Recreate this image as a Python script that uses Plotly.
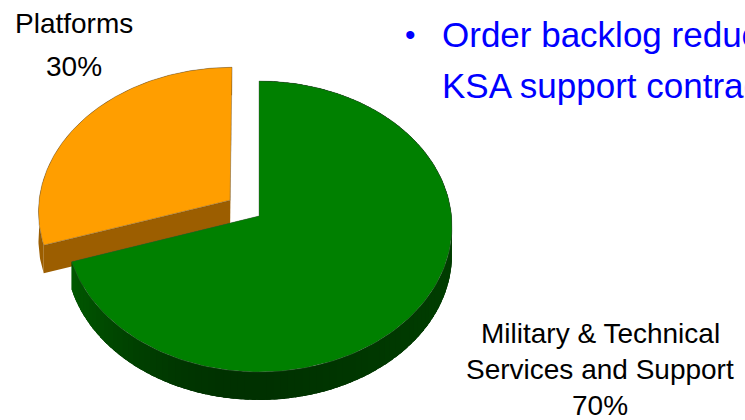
import numpy as np
import plotly.graph_objects as go

# Order backlog split (percent)
segments = ["Platforms", "Military & Technical Services and Support"]
shares = [30, 70]
top_colors = ["#FF9E00", "#008000"]
side_rgb = [(156, 94, 0), (0, 128, 0)]
shaded_rim = [False, True]
pulls = [0.187, 0.0]

label_lines = [["Platforms", "30%"],
               ["Military & Technical", "Services and Support", "70%"]]
bullet_lines = ["Order backlog reduced by", "KSA support contract"]

W, H = 745, 420

# Tilted-disc projection: (u, v) on the unit circle, v toward the viewer
CX, CY = 259.0, 216.0
RX, RY = 192.5, 144.7
K = 0.0722
DEPTH = 28.0


def project(u, v, drop=0.0):
    s = 1.0 / (1.0 - K * v)
    return CX + RX * u * s, CY + RY * v * s + drop


def uv(theta_deg, du=0.0, dv=0.0):
    t = np.radians(theta_deg)
    return -np.sin(t) + du, -np.cos(t) + dv


def poly_trace(xs, ys, fill, line_color=None, line_width=0.0):
    return go.Scatter(
        x=list(xs) + [xs[0]], y=list(ys) + [ys[0]],
        mode="lines", fill="toself", fillcolor=fill,
        line=dict(color=line_color or fill, width=line_width),
        hoverinfo="skip", showlegend=False,
    )


def rgb(base, f=1.0):
    return "rgb({},{},{})".format(*[int(round(c * f)) for c in base])


def rim_factor(theta):
    s = np.sin(np.radians(theta))
    return 0.38 + 0.34 * max(0.0, s) ** 2 + 0.10 * max(0.0, -s)


def rim_band(t_a, t_b, du, dv, n=40):
    ts = np.linspace(t_a, t_b, n)
    upper = [project(*uv(t, du, dv)) for t in ts]
    lower = [project(*uv(t, du, dv), DEPTH) for t in ts[::-1]]
    pts = upper + lower
    return [p[0] for p in pts], [p[1] for p in pts]


fig = go.Figure()

total = float(sum(shares))
start = 0.0
for name, share, top_col, base, shaded, pull in zip(
        segments, shares, top_colors, side_rgb, shaded_rim, pulls):
    t0 = start / total * 360.0
    t1 = (start + share) / total * 360.0
    start += share
    mid = np.radians((t0 + t1) / 2.0)
    du, dv = -np.sin(mid) * pull, -np.cos(mid) * pull

    # Radial cut faces
    for t in (t0, t1):
        eu, ev = uv(t, du, dv)
        q1 = project(du, dv); q2 = project(eu, ev)
        q3 = project(eu, ev, DEPTH); q4 = project(du, dv, DEPTH)
        fig.add_trace(poly_trace([q1[0], q2[0], q3[0], q4[0]],
                                 [q1[1], q2[1], q3[1], q4[1]], rgb(base)))

    # Outer rim
    if shaded:
        bx, by = rim_band(t0, t1, du, dv, 200)
        fig.add_trace(poly_trace(bx, by, rgb(base, 0.42)))
        ts = np.linspace(t0, t1, int((t1 - t0) / 2) + 1)
        step = ts[1] - ts[0]
        for a, b in zip(ts[:-1], ts[1:]):
            sx, sy = rim_band(a, min(b + 0.6 * step, t1), du, dv, 4)
            fig.add_trace(poly_trace(sx, sy, rgb(base, rim_factor((a + b) / 2))))
    else:
        bx, by = rim_band(t0, t1, du, dv, 120)
        fig.add_trace(poly_trace(bx, by, rgb(base)))

    # Top face of the slice
    arc = np.linspace(t0, t1, 180)
    c = project(du, dv)
    px, py = [c[0]], [c[1]]
    for t in arc:
        p = project(*uv(t, du, dv))
        px.append(p[0]); py.append(p[1])
    fig.add_trace(poly_trace(px, py, top_col,
                             line_color="rgba(70,70,70,0.4)", line_width=0.9))

FONT = "Liberation Sans, Arial, sans-serif"

annotations = []
# Slice labels
for text, y in zip(label_lines[0], [23, 66]):
    annotations.append(dict(x=74, y=y, text=text, xanchor="center", yanchor="middle",
                            font=dict(family=FONT, size=28, color="#000000")))
for text, y in zip(label_lines[1], [333, 369, 405]):
    annotations.append(dict(x=600, y=y, text=text, xanchor="center", yanchor="middle",
                            font=dict(family=FONT, size=28, color="#000000")))
# Bullet text
annotations.append(dict(x=410, y=34, text="\u2022", xanchor="center", yanchor="middle",
                        font=dict(family=FONT, size=30, color="#0000FF")))
for text, y in zip(bullet_lines, [34, 85]):
    annotations.append(dict(x=440, y=y, text=text, xanchor="left", yanchor="middle",
                            font=dict(family=FONT, size=35, color="#0000FF")))
for a in annotations:
    a.update(xref="x", yref="y", showarrow=False)

fig.update_layout(
    width=W, height=H,
    margin=dict(l=0, r=0, t=0, b=0),
    paper_bgcolor="white", plot_bgcolor="white",
    xaxis=dict(range=[0, W], visible=False, fixedrange=True),
    yaxis=dict(range=[H, 0], visible=False, fixedrange=True),
    annotations=annotations,
    showlegend=False,
)

fig.write_html("out.html")
